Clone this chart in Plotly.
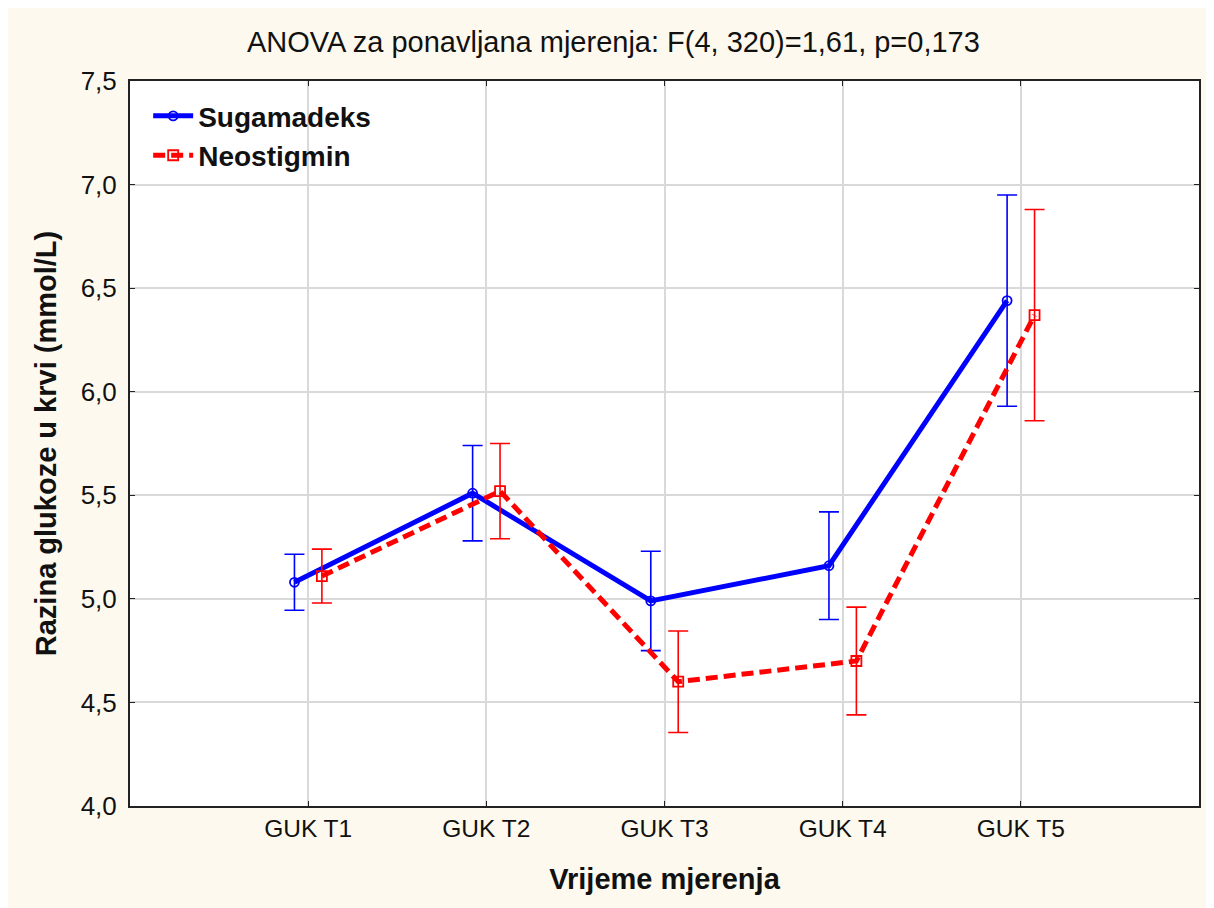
import plotly.graph_objects as go

# values
categories = ["GUK T1", "GUK T2", "GUK T3", "GUK T4", "GUK T5"]
suga_mean = [5.08, 5.51, 4.99, 5.16, 6.44]
suga_err = [0.135, 0.23, 0.24, 0.26, 0.51]
neo_mean = [5.11, 5.52, 4.60, 4.70, 6.37]
neo_err = [0.13, 0.23, 0.245, 0.26, 0.51]
title_text = "ANOVA za ponavljana mjerenja: F(4, 320)=1,61, p=0,173"

FONT = "Liberation Sans, Arial, sans-serif"
offset = 0.077  # horizontal dodge of the two groups

idx = list(range(len(categories)))

fig = go.Figure()
fig.add_trace(
    go.Scatter(
        x=[i - offset for i in idx],
        y=suga_mean,
        name="Sugamadeks",
        mode="lines+markers",
        line=dict(color="#0000FF", width=5),
        marker=dict(symbol="circle-open", size=9, color="#0000FF", line=dict(width=1.8)),
        error_y=dict(type="data", array=suga_err, color="#0000FF", thickness=1.6, width=10),
    )
)
fig.add_trace(
    go.Scatter(
        x=[i + offset for i in idx],
        y=neo_mean,
        name="Neostigmin",
        mode="lines+markers",
        line=dict(color="#FF0000", width=5, dash="12px,6px"),
        marker=dict(symbol="square-open", size=10, color="#FF0000", line=dict(width=1.8)),
        error_y=dict(type="data", array=neo_err, color="#FF0000", thickness=1.6, width=10),
    )
)

# page body adds an 8px margin, so the figure is sized to end at the window edge
fig.update_layout(
    width=1206,
    height=900,
    margin=dict(l=122, r=15, t=73, b=102),
    paper_bgcolor="#FEF9EE",
    plot_bgcolor="#FFFFFF",
    separators=",.",
    font=dict(family=FONT, color="#111111"),
    title=dict(
        text=title_text,
        x=0.502,
        xanchor="center",
        xref="container",
        y=1 - 34 / 900,
        yanchor="middle",
        yref="container",
        font=dict(size=29, color="#111111"),
    ),
    xaxis=dict(
        range=[-1, 5],
        tickvals=idx,
        ticktext=categories,
        tickfont=dict(size=24.5, color="#111111"),
        ticks="inside",
        ticklen=5,
        tickcolor="#222222",
        showgrid=True,
        gridcolor="#D9D9D9",
        gridwidth=2,
        zeroline=False,
        showline=True,
        linecolor="#222222",
        linewidth=2,
        mirror="ticks",
        title=dict(text="Vrijeme mjerenja", font=dict(size=29, weight="bold"), standoff=27),
    ),
    yaxis=dict(
        range=[4, 7.5],
        tickvals=[4.0, 4.5, 5.0, 5.5, 6.0, 6.5, 7.0, 7.5],
        tickformat=".1f",
        tickfont=dict(size=26, color="#111111"),
        ticks="inside",
        ticklen=5,
        tickcolor="#222222",
        ticklabelstandoff=6,
        showgrid=True,
        gridcolor="#D9D9D9",
        gridwidth=2,
        zeroline=False,
        showline=True,
        linecolor="#222222",
        linewidth=2,
        mirror="ticks",
        title=dict(
            text="Razina glukoze u krvi (mmol/L)", font=dict(size=29, weight="bold"), standoff=15
        ),
    ),
    legend=dict(
        x=0.017,
        y=0.986,
        xanchor="left",
        yanchor="top",
        bgcolor="rgba(0,0,0,0)",
        font=dict(size=28, weight="bold", color="#111111"),
        itemwidth=40,
        tracegroupgap=0,
    ),
)

fig.write_html("out.html")
